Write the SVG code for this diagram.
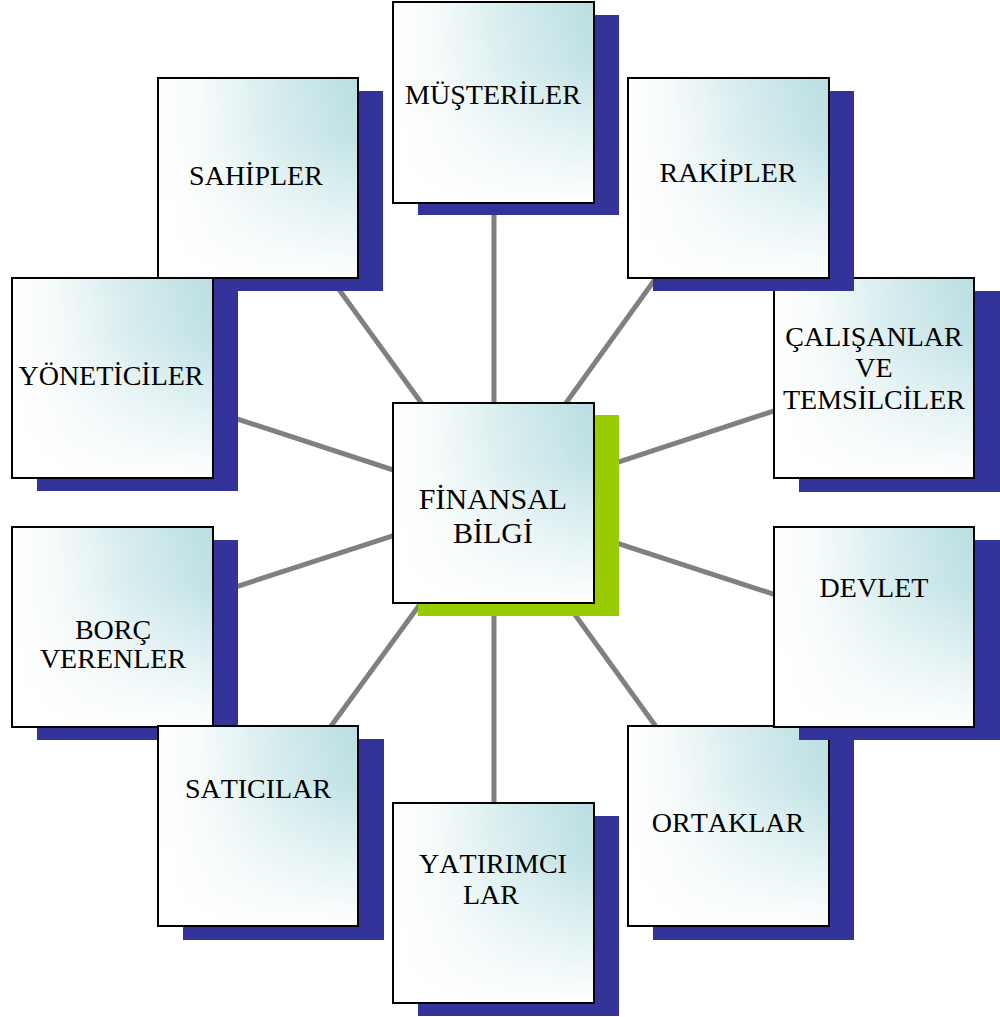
<svg xmlns="http://www.w3.org/2000/svg" width="1000" height="1017" viewBox="0 0 1000 1017">
<defs>
<linearGradient id="gh" x1="0" y1="0" x2="1" y2="0">
<stop offset="0" stop-color="#ffffff"/>
<stop offset="0.2" stop-color="#f7fbfb"/>
<stop offset="0.6" stop-color="#d4ebed"/>
<stop offset="1" stop-color="#b9dfe2"/>
</linearGradient>
<linearGradient id="gv" x1="0" y1="0" x2="0" y2="1">
<stop offset="0" stop-color="#ffffff" stop-opacity="0"/>
<stop offset="0.3" stop-color="#ffffff" stop-opacity="0.1"/>
<stop offset="1" stop-color="#ffffff" stop-opacity="1"/>
</linearGradient>
</defs>
<style>
.sh{fill:#333399}
.shc{fill:#99cc00}
.bg{fill:url(#gh)}
.fd{fill:url(#gv)}
.bd{fill:none;stroke:#000;stroke-width:2}
.t{font-family:"Liberation Serif","Times New Roman",serif;font-size:28px;fill:#000;text-anchor:middle;font-kerning:none}
.tc{font-family:"Liberation Serif","Times New Roman",serif;font-size:30px;fill:#000;text-anchor:middle;font-kerning:none}
.ln{stroke:#808080;stroke-width:5;fill:none}
</style>
<rect width="1000" height="1017" fill="#fff"/>
<g id="connectors">
<line class="ln" x1="494" y1="503" x2="494" y2="102"/>
<line class="ln" x1="494" y1="503" x2="258" y2="178"/>
<line class="ln" x1="494" y1="503" x2="728" y2="178"/>
<line class="ln" x1="494" y1="503" x2="874" y2="378"/>
<line class="ln" x1="494" y1="503" x2="112" y2="378"/>
<line class="ln" x1="494" y1="503" x2="112" y2="627"/>
<line class="ln" x1="494" y1="503" x2="874" y2="627"/>
<line class="ln" x1="494" y1="503" x2="258" y2="826"/>
<line class="ln" x1="494" y1="503" x2="728" y2="826"/>
<line class="ln" x1="494" y1="503" x2="494" y2="903"/>
</g>
<g id="musteriler">
<rect class="sh" x="418" y="15" width="201" height="200"/>
<rect class="bg" x="393" y="2" width="201" height="201"/>
<rect class="fd" x="393" y="2" width="201" height="201"/>
<rect class="bd" x="393" y="2" width="201" height="201"/>
<text class="t" x="493" y="104">MÜŞTERİLER</text>
</g>
<g id="calisanlar">
<rect class="sh" x="799" y="291" width="201" height="201"/>
<rect class="bg" x="774" y="278" width="200" height="200"/>
<rect class="fd" x="774" y="278" width="200" height="200"/>
<rect class="bd" x="774" y="278" width="200" height="200"/>
<text class="t" x="874" y="346">ÇALIŞANLAR</text>
<text class="t" x="874" y="377">VE</text>
<text class="t" x="874" y="409">TEMSİLCİLER</text>
</g>
<g id="rakipler">
<rect class="sh" x="653" y="91" width="201" height="200"/>
<rect class="bg" x="628" y="78" width="201" height="200"/>
<rect class="fd" x="628" y="78" width="201" height="200"/>
<rect class="bd" x="628" y="78" width="201" height="200"/>
<text class="t" x="728" y="182">RAKİPLER</text>
</g>
<g id="sahipler">
<rect class="sh" x="183" y="91" width="200" height="200"/>
<rect class="bg" x="158" y="78" width="200" height="200"/>
<rect class="fd" x="158" y="78" width="200" height="200"/>
<rect class="bd" x="158" y="78" width="200" height="200"/>
<text class="t" x="256" y="185">SAHİPLER</text>
</g>
<g id="yoneticiler">
<rect class="sh" x="37" y="291" width="201" height="200"/>
<rect class="bg" x="12" y="278" width="201" height="200"/>
<rect class="fd" x="12" y="278" width="201" height="200"/>
<rect class="bd" x="12" y="278" width="201" height="200"/>
<text class="t" x="111" y="385">YÖNETİCİLER</text>
</g>
<g id="borc-verenler">
<rect class="sh" x="37" y="540" width="201" height="200"/>
<rect class="bg" x="12" y="527" width="201" height="200"/>
<rect class="fd" x="12" y="527" width="201" height="200"/>
<rect class="bd" x="12" y="527" width="201" height="200"/>
<text class="t" x="113" y="639">BORÇ</text>
<text class="t" x="113" y="668">VERENLER</text>
</g>
<g id="saticilar">
<rect class="sh" x="183" y="739" width="201" height="201"/>
<rect class="bg" x="158" y="726" width="200" height="200"/>
<rect class="fd" x="158" y="726" width="200" height="200"/>
<rect class="bd" x="158" y="726" width="200" height="200"/>
<text class="t" x="258" y="798">SATICILAR</text>
</g>
<g id="ortaklar">
<rect class="sh" x="653" y="739" width="201" height="201"/>
<rect class="bg" x="628" y="726" width="201" height="200"/>
<rect class="fd" x="628" y="726" width="201" height="200"/>
<rect class="bd" x="628" y="726" width="201" height="200"/>
<text class="t" x="728" y="832">ORTAKLAR</text>
</g>
<g id="devlet">
<rect class="sh" x="799" y="540" width="201" height="200"/>
<rect class="bg" x="774" y="527" width="200" height="200"/>
<rect class="fd" x="774" y="527" width="200" height="200"/>
<rect class="bd" x="774" y="527" width="200" height="200"/>
<text class="t" x="874" y="597">DEVLET</text>
</g>
<g id="yatirimcilar">
<rect class="sh" x="418" y="816" width="201" height="200"/>
<rect class="bg" x="393" y="803" width="201" height="200"/>
<rect class="fd" x="393" y="803" width="201" height="200"/>
<rect class="bd" x="393" y="803" width="201" height="200"/>
<text class="t" x="493" y="873">YATIRIMCI</text>
<text class="t" x="491" y="904">LAR</text>
</g>
<g id="finansal-bilgi">
<rect class="shc" x="418" y="415" width="201" height="201"/>
<rect class="bg" x="393" y="403" width="201" height="200"/>
<rect class="fd" x="393" y="403" width="201" height="200"/>
<rect class="bd" x="393" y="403" width="201" height="200"/>
<text class="tc" x="493" y="509">FİNANSAL</text>
<text class="tc" x="493" y="543">BİLGİ</text>
</g>
</svg>
